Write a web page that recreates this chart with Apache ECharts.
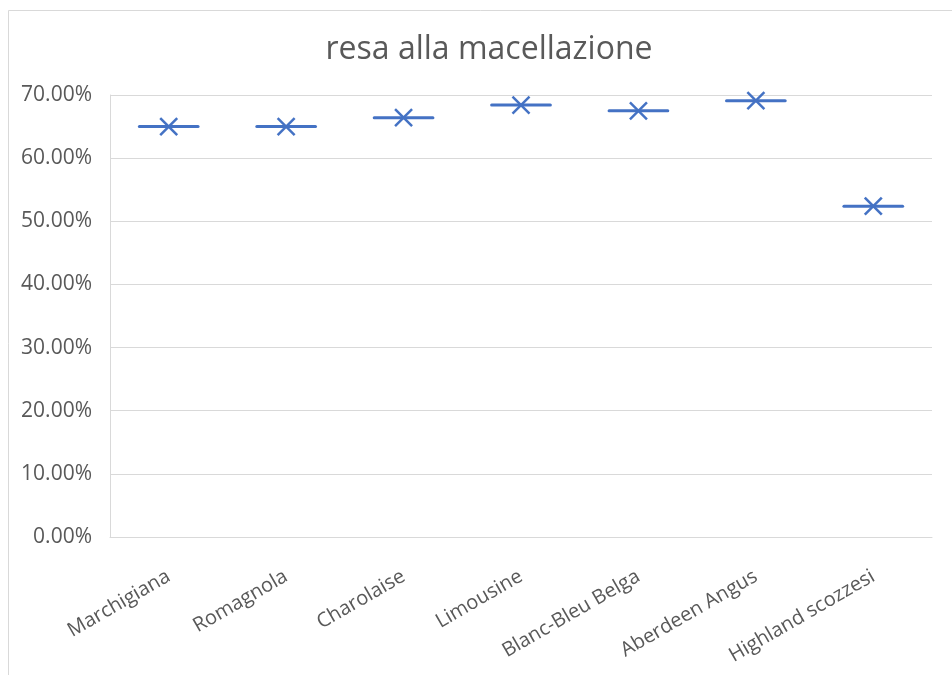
<!DOCTYPE html>
<html>
<head>
<meta charset="utf-8">
<title>resa alla macellazione</title>
<script src="https://cdn.jsdelivr.net/npm/echarts@6/dist/echarts.min.js"></script>
<style>
  html, body { margin: 0; padding: 0; background: #ffffff; }
  #chart { width: 952px; height: 675px; }
</style>
</head>
<body>
<div id="chart"></div>
<script>
// Breeds and their dressing-out percentage (fraction of live weight)
const breeds = ['Marchigiana', 'Romagnola', 'Charolaise', 'Limousine', 'Blanc-Bleu Belga', 'Aberdeen Angus', 'Highland scozzesi'];
const yieldValues = [0.650, 0.650, 0.664, 0.684, 0.675, 0.691, 0.524];
const yTicks = [0, 0.1, 0.2, 0.3, 0.4, 0.5, 0.6, 0.7];

const BLUE = '#4472C4';
const GRID = '#d9d9d9';
const TEXT = '#595959';
const FONT = '"Open Sans", "Noto Sans", sans-serif';

const chart = echarts.init(document.getElementById('chart'), null, { renderer: 'canvas' });

// Each breed is drawn as a flat box (median line) with an "x" at the mean
function renderMark(params, api) {
  const p = api.coord([api.value(0), api.value(1)]);
  const band = api.size([1, 0])[0];
  const half = band * 0.25;
  const m = 8.5;
  const style = { stroke: BLUE, lineWidth: 3, lineCap: 'round' };
  return {
    type: 'group',
    children: [
      { type: 'line', shape: { x1: p[0] - half, y1: p[1], x2: p[0] + half, y2: p[1] }, style: style },
      { type: 'line', shape: { x1: p[0] - m, y1: p[1] - m, x2: p[0] + m, y2: p[1] + m }, style: { stroke: BLUE, lineWidth: 2.5 } },
      { type: 'line', shape: { x1: p[0] - m, y1: p[1] + m, x2: p[0] + m, y2: p[1] - m }, style: { stroke: BLUE, lineWidth: 2.5 } }
    ]
  };
}

const option = {
  backgroundColor: '#ffffff',
  animation: false,
  title: {
    text: 'resa alla macellazione',
    left: 484,
    top: 29,
    textAlign: 'center',
    textStyle: { fontFamily: FONT, fontSize: 32, fontWeight: 'normal', color: TEXT }
  },
  graphic: [
    {
      type: 'rect',
      silent: true,
      shape: { x: 8.5, y: 10.5, width: 1000, height: 1000 },
      style: { fill: null, stroke: GRID, lineWidth: 1 }
    }
  ],
  grid: { left: 110, right: 20, top: 95, bottom: 138, containLabel: false },
  xAxis: {
    type: 'category',
    data: breeds,
    boundaryGap: true,
    axisLine: { show: true, lineStyle: { color: GRID, width: 1 } },
    axisTick: { show: false },
    axisLabel: {
      rotate: 30,
      margin: 38,
      interval: 0,
      color: TEXT,
      fontFamily: FONT,
      fontSize: 20
    },
    splitLine: { show: false }
  },
  yAxis: {
    type: 'value',
    min: yTicks[0],
    max: yTicks[yTicks.length - 1],
    interval: 0.1,
    axisLine: { show: true, lineStyle: { color: GRID, width: 1 } },
    axisTick: { show: false },
    axisLabel: {
      margin: 18,
      color: TEXT,
      fontFamily: FONT,
      fontSize: 21,
      formatter: v => (v * 100).toFixed(2) + '%'
    },
    splitLine: { show: true, lineStyle: { color: GRID, width: 1 } }
  },
  series: [
    {
      type: 'custom',
      name: 'resa',
      renderItem: renderMark,
      encode: { x: 0, y: 1 },
      data: breeds.map((b, i) => [i, yieldValues[i]])
    }
  ]
};

chart.setOption(option);
</script>
</body>
</html>
